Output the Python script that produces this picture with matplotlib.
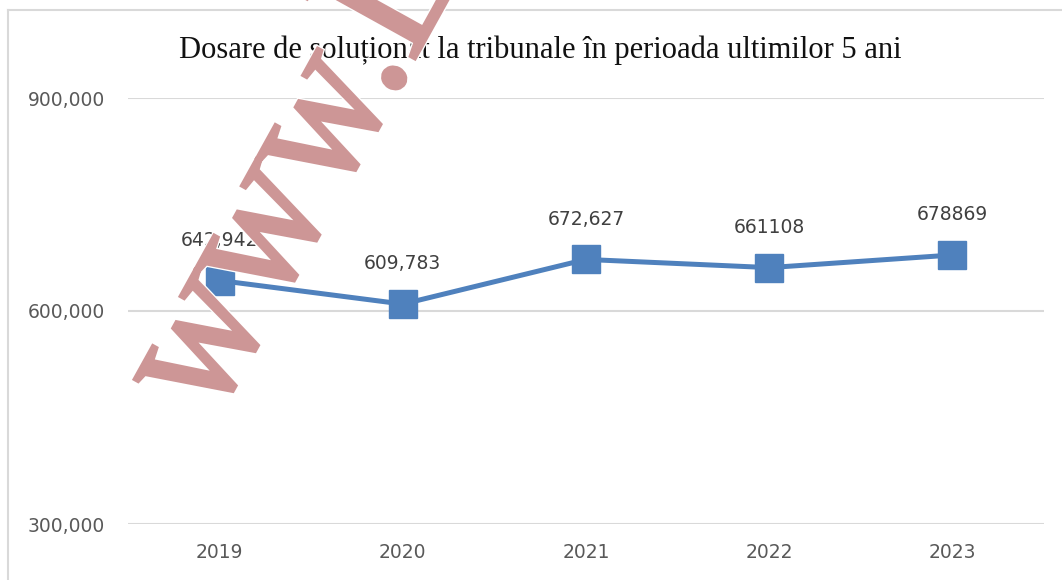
import matplotlib
matplotlib.use("Agg")
import matplotlib.pyplot as plt
from matplotlib.lines import Line2D
from matplotlib.textpath import TextPath
from matplotlib.patches import PathPatch
from matplotlib.font_manager import FontProperties
from matplotlib.transforms import Affine2D

years = ["2019", "2020", "2021", "2022", "2023"]
values = [642942, 609783, 672627, 661108, 678869]
value_labels = ["642,942", "609,783", "672,627", "661108", "678869"]
y_ticks = [300000, 600000, 900000]
y_tick_labels = ["300,000", "600,000", "900,000"]
title = "Dosare de soluționat la tribunale în perioada ultimilor 5 ani"
watermark = "www.L"

W, H = 1062, 580
fig = plt.figure(figsize=(W / 100, H / 100), dpi=100)
fig.patch.set_facecolor("white")

# outer chart border (cropped)
fig.add_artist(Line2D([8 / W, 8 / W], [0, 1 - 10 / H], transform=fig.transFigure,
                      color="#D9D9D9", lw=1.5))
fig.add_artist(Line2D([8 / W, 1], [1 - 10 / H, 1 - 10 / H], transform=fig.transFigure,
                      color="#D9D9D9", lw=1.5))

left, right = 128 / W, 1044 / W
bottom, top = 1 - 524 / H, 1 - 98 / H
ax = fig.add_axes([left, bottom, right - left, top - bottom])
ax.set_facecolor("none")

x = list(range(len(years)))
ax.plot(x, values, color="#4F81BD", lw=3.6, marker="s", markersize=20,
        markerfacecolor="#4F81BD", markeredgecolor="#4F81BD", clip_on=False, zorder=3)

for xi, v, lab in zip(x, values, value_labels):
    ax.annotate(lab, (xi, v), xytext=(0, 29), textcoords="offset points",
                ha="center", va="center", fontsize=13.5, color="#404040",
                family="DejaVu Sans")

ax.set_xlim(-0.5, len(years) - 0.5)
ax.set_ylim(300000, 900000)
ax.set_yticks(y_ticks)
ax.set_yticklabels(y_tick_labels)
ax.set_xticks(x)
ax.set_xticklabels(years)
ax.grid(axis="y", color="#D9D9D9", lw=1.5)
ax.set_axisbelow(True)
for s in ax.spines.values():
    s.set_visible(False)
ax.tick_params(axis="both", length=0, labelsize=13.5, labelcolor="#595959")
ax.tick_params(axis="y", pad=16.5)
ax.tick_params(axis="x", pad=14)

fig.text(540 / W, 1 - 50 / H, title, ha="center", va="center",
         fontsize=22, family="Liberation Serif", color="#111111")

# watermark (rotated, slightly stretched serif text with white outline)
wm_color = "#CD9696"
tp = TextPath((0, 0), watermark, size=175, prop=FontProperties(family="Liberation Serif"))
tr = Affine2D().scale(1.0, 1.12).rotate_deg(61).translate(213, H - 423)
fig.add_artist(PathPatch(tp, transform=tr, facecolor=wm_color,
                         edgecolor="white", lw=4.5, zorder=10))
fig.add_artist(PathPatch(tp, transform=tr, facecolor=wm_color,
                         edgecolor=wm_color, lw=2.6, zorder=11))

fig.savefig("out.png", dpi=100)
